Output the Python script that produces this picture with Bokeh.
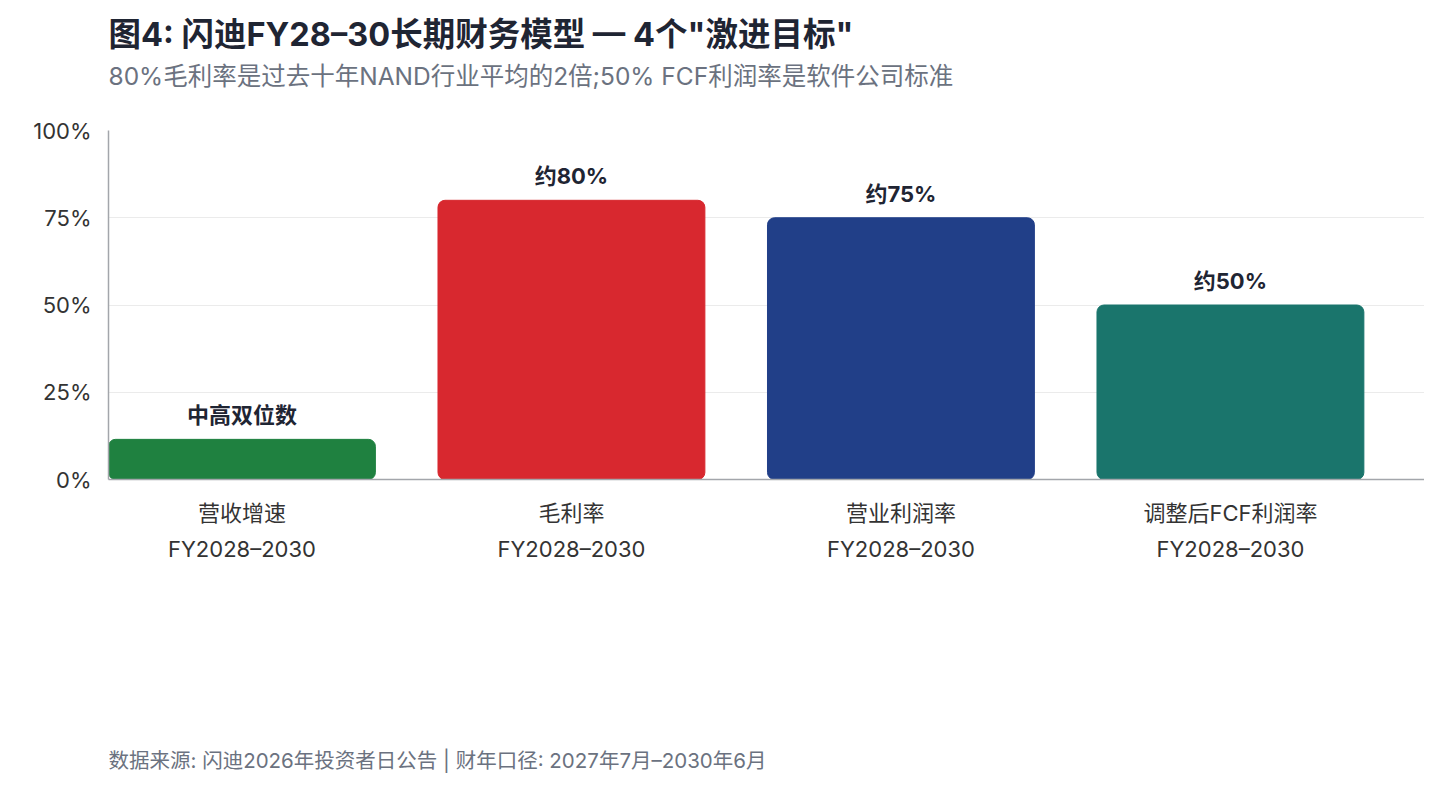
from bokeh.plotting import figure
from bokeh.models import Range1d, FixedTicker, LinearAxis, Title, ColumnDataSource, PrintfTickFormatter
from bokeh.core.properties import value
from bokeh.embed import file_html
from bokeh.resources import INLINE

FONT = "Inter, 'Noto Sans CJK SC'"

categories = ["营收增速", "毛利率", "营业利润率", "调整后FCF利润率"]
periods = ["FY2028–2030", "FY2028–2030", "FY2028–2030", "FY2028–2030"]
values = [11.5, 80, 75, 50]
bar_labels = ["中高双位数", "约80%", "约75%", "约50%"]
colors = ["#1f8140", "#d8282f", "#213f88", "#1a756c"]
y_ticks = [0, 25, 50, 75, 100]

title_text = '图4: 闪迪FY28–30长期财务模型 — 4个"激进目标"'
subtitle_text = "80%毛利率是过去十年NAND行业平均的2倍;50% FCF利润率是软件公司标准"
footer_text = "数据来源: 闪迪2026年投资者日公告 | 财年口径: 2027年7月–2030年6月"

xs = list(range(len(categories)))
source = ColumnDataSource(dict(x=xs, value=values, label=bar_labels, color=colors))

p = figure(width=1424, height=781,
           x_range=Range1d(-0.405, 3.589), y_range=Range1d(0, 100),
           output_backend="svg", toolbar_location=None,
           min_border_left=108, min_border_right=0,
           min_border_top=130, min_border_bottom=302)
p.title_location = None
p.outline_line_color = None
p.background_fill_color = "white"
p.border_fill_color = "white"

p.vbar(x="x", top="value", bottom=0, width=0.81, source=source,
       fill_color="color", line_color="color", border_radius=7)

p.text(x="x", y="value", text="label", source=source,
       text_align="center", text_baseline="bottom", y_offset=-11,
       text_font=value(FONT), text_font_size="22px", text_font_style="bold",
       text_color="#1f2533")

# grid
p.xgrid.visible = False
p.ygrid.ticker = FixedTicker(ticks=y_ticks)
p.ygrid.grid_line_color = "#ebebeb"
p.ygrid.grid_line_width = 1

# y axis
yax = p.yaxis[0]
yax.ticker = FixedTicker(ticks=y_ticks)
yax.formatter = PrintfTickFormatter(format="%d%%")
yax.major_tick_line_color = None
yax.minor_tick_line_color = None
yax.major_tick_out = 0
yax.minor_tick_out = 0
yax.axis_line_color = "#a3a6ab"
yax.axis_line_width = 1.5
yax.major_label_text_font = FONT
yax.major_label_text_font_size = "22px"
yax.major_label_text_color = "#333333"
yax.major_label_standoff = 17

# x axis: categories
xax = p.xaxis[0]
xax.ticker = FixedTicker(ticks=xs)
xax.major_label_overrides = {i: c for i, c in zip(xs, categories)}
xax.major_tick_line_color = None
xax.minor_tick_line_color = None
xax.major_tick_out = 0
xax.minor_tick_out = 0
xax.axis_line_color = "#a3a6ab"
xax.axis_line_width = 1.5
xax.major_label_text_font = FONT
xax.major_label_text_font_size = "22px"
xax.major_label_text_color = "#333333"
xax.major_label_standoff = 20

# x axis: periods (second line)
xax2 = LinearAxis(ticker=FixedTicker(ticks=xs))
xax2.major_label_overrides = {i: c for i, c in zip(xs, periods)}
xax2.major_tick_line_color = None
xax2.minor_tick_line_color = None
xax2.major_tick_out = 0
xax2.minor_tick_out = 0
xax2.axis_line_color = None
xax2.major_label_text_font = FONT
xax2.major_label_text_font_size = "22px"
xax2.major_label_text_color = "#333333"
xax2.major_label_standoff = 7
p.add_layout(xax2, "below")

# spacer + footer
p.add_layout(Title(text=" ", text_font_size="1px", standoff=176), "below")
footer = Title(text=footer_text, align="left", text_font=FONT, text_font_size="20.5px",
               text_font_style="normal", text_color="#6b7280", standoff=4)
p.add_layout(footer, "below")

# spacer, subtitle and title (stacked outward from the frame)
p.add_layout(Title(text=" ", text_font_size="1px", standoff=35), "above")
sub = Title(text=subtitle_text, align="left", text_font=FONT, text_font_size="24.5px",
            text_font_style="normal", text_color="#6b7280", standoff=4)
p.add_layout(sub, "above")
ttl = Title(text=title_text, align="left", text_font=FONT, text_font_size="32.5px",
            text_font_style="bold", text_color="#1f2533", standoff=6)
p.add_layout(ttl, "above")

open("out.html", "w").write(file_html(p, INLINE))
